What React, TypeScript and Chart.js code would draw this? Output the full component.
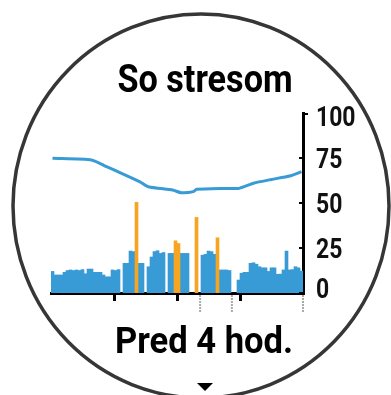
import React, { useEffect, useRef } from 'react';
import { Chart, registerables } from 'chart.js';

Chart.register(...registerables);

const TITLE = 'So stresom';
const SUBTITLE = 'Pred 4 hod.';

// 84 slots covering the last 4 hours (oldest on the left)
const slotLabels: string[] = Array.from({ length: 84 }, (_, i) => `-${Math.round((84 - i) * 240 / 84)} min`);

const yTicks = [0, 25, 50, 75, 100];

// rest (blue) stress bars per slot, null = no data
const restValues: (number | null)[] = [
  12, 10, 10, 10, 11.5, 12.5, 12.8, 12.5, 12.8, 12.5,
  13, 10.7, 13.3, 13.3, 11.5, 11.5, 11.5, 10, 9, 9,
  12.8, 12.5, 13, null, 16.5, 16.5, 23.3, 23, null, 16.5,
  16.5, null, 14.6, 20, 23, 23.5, 22, 22.5, null, 22,
  22, null, null, 22, 22, 22, null, null, null, null,
  21, 21.5, 23.3, 23, 21.5, null, 12.8, 12.8, 12.8, 12.5,
  null, null, 7.2, 11, 11.5, 11.5, 16.5, 16.8, 16, 14.6,
  14, 14, 12, 14, 14, 10.4, 10.5, 12.8, 23.3, 12.8,
  13, 14.6, 14, 12.2,
];

// stress (orange) bars
const stressSlots = [28, 41, 42, 48, 55];
const stressValues = [50.4, 29, 27.5, 42, 30.7];

// average stress line
const avgSlots = [0, 13, 18, 23, 29, 32, 40, 43, 47, 48, 57, 62, 67, 73, 79, 83];
const avgValues = [74.8, 73.9, 70.2, 66.5, 61.9, 59, 57.2, 55.7, 56.3, 57.6, 58.1, 58.1, 61, 63.1, 65, 67.4];

// hour marks (black) and event marks (grey) on the time axis, in slots
const hourMarks = [21, 42, 63];
const eventMarks = [49.7, 60.3, 84];

const BLUE = '#389bd6';
const ORANGE = '#f6a522';

const stressData: (number | null)[] = slotLabels.map(() => null);
stressSlots.forEach((s, k) => { stressData[s] = stressValues[k]; });
const avgData: (number | null)[] = slotLabels.map(() => null);
avgSlots.forEach((s, k) => { avgData[s] = avgValues[k]; });

function condensedText(ctx: any, text: string, x: number, y: number, size: number, sx: number, align: string) {
  ctx.save();
  ctx.translate(x, y);
  ctx.scale(sx, 1);
  ctx.font = `bold ${size}px Roboto`;
  ctx.textAlign = align;
  ctx.textBaseline = 'alphabetic';
  ctx.fillText(text, 0, 0);
  ctx.restore();
}

const decor = {
  id: 'decor',
  beforeDraw(chart: any) {
    const ctx = chart.ctx;
    ctx.save();
    ctx.fillStyle = '#ffffff';
    ctx.fillRect(0, 0, chart.width, chart.height);
    ctx.restore();
  },
  afterDraw(chart: any) {
    const ctx = chart.ctx;
    const ys = chart.scales.y;
    const area = chart.chartArea;
    const slotW = (area.right - area.left) / slotLabels.length;
    ctx.save();
    // grey event marks
    ctx.strokeStyle = '#aaaaaa';
    ctx.lineWidth = 2;
    ctx.setLineDash([2, 1]);
    eventMarks.forEach((m) => {
      const x = area.left + m * slotW;
      ctx.beginPath();
      ctx.moveTo(x, area.bottom + 2);
      ctx.lineTo(x, area.bottom + 19);
      ctx.stroke();
    });
    ctx.setLineDash([]);
    // y ticks (inward) and labels
    ctx.strokeStyle = '#000';
    ctx.lineWidth = 2;
    ctx.fillStyle = '#111';
    yTicks.forEach((v) => {
      const y = ys.getPixelForValue(v);
      ctx.beginPath();
      if (v === 100) {
        ctx.moveTo(area.right, y + 1);
        ctx.lineTo(area.right + 5, y + 1);
      } else {
        ctx.moveTo(area.right - 4, y);
        ctx.lineTo(area.right, y);
      }
      ctx.stroke();
      const cy = Math.min(Math.max(y, area.top + 3), area.bottom - 5);
      condensedText(ctx, String(v), area.right + 13, cy + 10, 28, 0.82, 'left');
    });
    // bezel
    ctx.beginPath();
    ctx.ellipse(201, 206, 188, 192, 0, 0, Math.PI * 2);
    ctx.lineWidth = 3.5;
    ctx.strokeStyle = '#363636';
    ctx.stroke();
    // texts
    ctx.fillStyle = '#000';
    condensedText(ctx, TITLE, 205, 92, 38, 0.9, 'center');
    condensedText(ctx, SUBTITLE, 204, 353, 36, 0.96, 'center');
    // triangle
    ctx.beginPath();
    ctx.moveTo(197, 383);
    ctx.lineTo(213, 383);
    ctx.lineTo(205, 391);
    ctx.closePath();
    ctx.fill();
    ctx.restore();
  },
};

export default function App() {
  const ref = useRef<HTMLCanvasElement | null>(null);
  useEffect(() => {
    if (!ref.current) return;
    const chart = new Chart(ref.current, {
      type: 'bar',
      data: {
        labels: slotLabels,
        datasets: [
          {
            type: 'line',
            label: 'Priemer',
            data: avgData,
            borderColor: BLUE,
            borderWidth: 3,
            pointRadius: 0,
            spanGaps: true,
            tension: 0.2,
            order: 0,
          } as any,
          {
            label: 'Stres',
            data: stressData,
            backgroundColor: ORANGE,
            grouped: false,
            barPercentage: 1,
            categoryPercentage: 1,
            order: 1,
          } as any,
          {
            label: 'Odpočinok',
            data: restValues,
            backgroundColor: BLUE,
            grouped: false,
            barPercentage: 1,
            categoryPercentage: 1,
            order: 2,
          } as any,
        ],
      },
      options: {
        responsive: false,
        animation: false,
        layout: { padding: { left: 51, top: 113, right: 28, bottom: 82 } },
        plugins: { legend: { display: false }, tooltip: { enabled: false }, title: { display: false } },
        scales: {
          x: {
            offset: true,
            afterFit: (s: any) => { s.height = 20; },
            ticks: { display: false, autoSkip: false },
            border: { display: true, color: '#000', width: 3 },
            grid: {
              offset: true,
              drawOnChartArea: false,
              drawTicks: true,
              tickLength: 8,
              lineWidth: 3,
              color: (c: any) => (hourMarks.includes(c.index) ? '#000' : 'rgba(0,0,0,0)'),
            },
          },
          y: {
            position: 'right',
            min: 0,
            max: 100,
            afterFit: (s: any) => { s.width = 60; },
            afterBuildTicks: (s: any) => { s.ticks = yTicks.map((v) => ({ value: v })); },
            ticks: { display: false },
            border: { display: true, color: '#000', width: 3 },
            grid: { display: false },
          },
        },
      },
      plugins: [decor],
    });
    return () => chart.destroy();
  }, []);
  return (
    <div style={{ position: 'absolute', left: 0, top: 0, width: 391, height: 395 }}>
      <canvas ref={ref} width={391} height={395} />
    </div>
  );
}
